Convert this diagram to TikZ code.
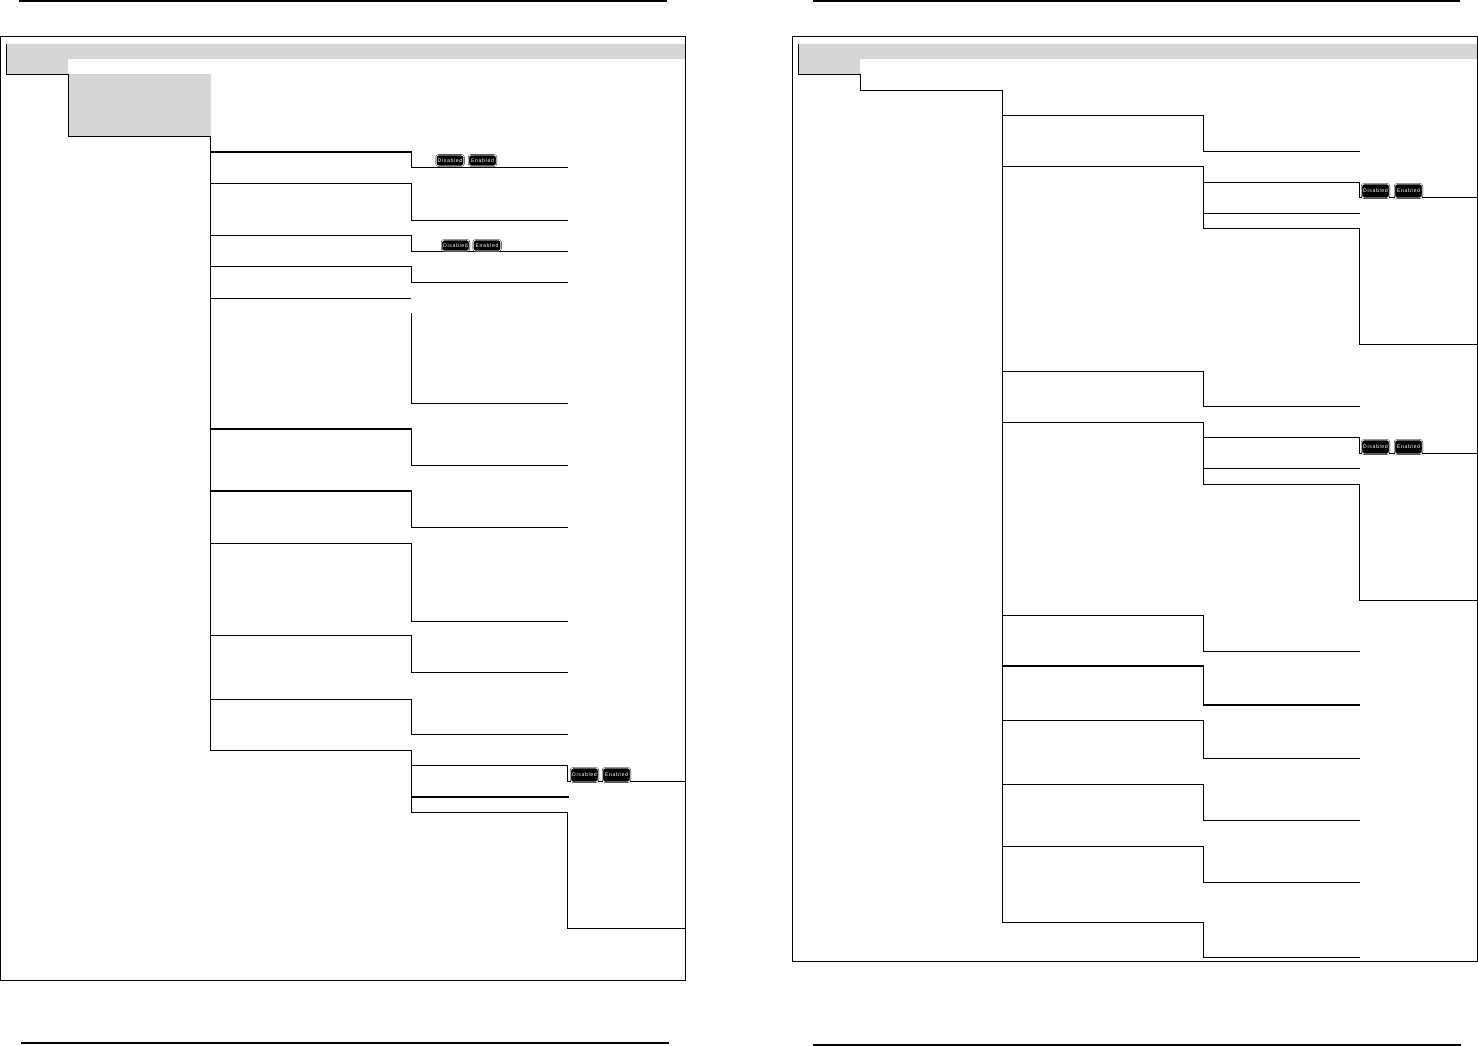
\documentclass[tikz,border=0pt]{standalone}
\usepackage{fontspec}
\newfontfamily\btnfont[LetterSpace=12]{Liberation Sans}
\definecolor{band}{gray}{0.84}
\tikzset{
  wire/.style={draw=black,line width=1pt,line cap=rect},
  heavy/.style={draw=black,line width=2pt,line cap=butt,transform canvas={yshift=.5pt}},
  rulebar/.style={draw=black,line width=2pt},
  btn/.style={fill=black,draw=black,line width=.4pt,double=white,double distance=.7pt,
    rounded corners=2.5pt,text=white,font=\btnfont\fontsize{5.2}{5.2}\selectfont,
    inner sep=0pt,minimum width=27.5pt,minimum height=#1},
  btn/.default=14pt
}
\begin{document}
\begin{tikzpicture}[x=1pt,y=-1pt]
  \useasboundingbox (0,0) rectangle (1478,1046);
  \fill[band] (6,44) -- (685,44) -- (685,59) -- (68,59) -- (68,74) -- (6,74) -- cycle;
  \fill[band] (68,74) rectangle (211,136);
  \fill[band] (798,44) -- (1477,44) -- (1477,59) -- (860,59) -- (860,74) -- (798,74) -- cycle;

  \draw[rulebar] (19,0.7) -- (667,0.7);
  \draw[rulebar] (813,0.7) -- (1460,0.7);
  \draw[rulebar] (21,1042.7) -- (669,1042.7);
  \draw[rulebar] (813,1044.7) -- (1461,1044.7);

  \begin{scope}[shift={(0.5,0.5)}]
  \draw[wire] (0,36) rectangle (685,980);
  \draw[wire] (792,36) rectangle (1477,961);

  \coordinate (lstart) at (6,44);
  \coordinate (lstep) at (6,74);
  \coordinate (lhead) at (68,74);
  \coordinate (lhook) at (68,136);
  \coordinate (ltop) at (210,136);
  \coordinate (lend) at (210,750);
  \draw[wire] (lstart) -- (lstep) -- (lhead) -- (lhook) -- (ltop) -- (lend);

  \coordinate (rstart) at (798,44);
  \coordinate (rstep) at (798,74);
  \coordinate (rhead) at (860,74);
  \coordinate (rhook) at (860,90);
  \coordinate (rtop) at (1002,90);
  \coordinate (rend) at (1002,922);
  \draw[wire] (rstart) -- (rstep) -- (rhead) -- (rhook) -- (rtop) -- (rend);

  \foreach \ya/\yb in {152/167,183/220,235/251,266/282,429/465,491/527,543/621,635/672,699/734} {
    \coordinate (la\ya) at (210,\ya);
    \coordinate (lb\ya) at (411,\ya);
    \coordinate (lc\ya) at (411,\yb);
    \coordinate (ld\ya) at (567,\yb);
    \draw[wire] (la\ya) -- (lb\ya) -- (lc\ya) -- (ld\ya);
  }
  \foreach \ya in {152,429,491}
    \draw[heavy] (la\ya) -- (lb\ya);

  \coordinate (lopen) at (210,298);
  \coordinate (lopenend) at (410,298);
  \draw[wire] (lopen) -- (lopenend);
  \coordinate (lgap) at (411,313);
  \coordinate (lgapend) at (411,403);
  \coordinate (lgapout) at (567,403);
  \draw[wire] (lgap) -- (lgapend) -- (lgapout);

  \coordinate (lsub) at (210,750);
  \coordinate (lsubx) at (411,750);
  \coordinate (lsubend) at (411,812);
  \coordinate (lsubout) at (567,812);
  \coordinate (lsubdown) at (567,928);
  \coordinate (lsubedge) at (685,928);
  \draw[wire] (lsub) -- (lsubx) -- (lsubend) -- (lsubout) -- (lsubdown) -- (lsubedge);
  \coordinate (lsuba) at (411,765);
  \coordinate (lsubb) at (567,765);
  \coordinate (lsubc) at (567,781);
  \draw[wire] (lsuba) -- (lsubb) -- (lsubc);
  \coordinate (lsubm) at (411,797);
  \coordinate (lsubn) at (568,797);
  \draw[heavy] (lsubm) -- (lsubn);
  \coordinate (lbtnedge) at (685,781);
  \draw[wire] (lsubc) -- (lbtnedge);

  \foreach \ya/\yb in {115/151,371/406,615/651,666/705,720/758,784/820,846/882,922/957} {
    \coordinate (ra\ya) at (1002,\ya);
    \coordinate (rb\ya) at (1203,\ya);
    \coordinate (rc\ya) at (1203,\yb);
    \coordinate (rd\ya) at (1359,\yb);
    \draw[wire] (ra\ya) -- (rb\ya) -- (rc\ya) -- (rd\ya);
  }
  \draw[heavy] (ra666) -- (rb666);
  \draw[heavy] (rc666) -- (rd666);

  \foreach \ya/\yb/\yc/\yd/\ye/\yf in {166/182/197/213/228/344,422/437/453/468/484/600} {
    \coordinate (ra\ya) at (1002,\ya);
    \coordinate (rb\ya) at (1203,\ya);
    \coordinate (rc\ya) at (1203,\ye);
    \coordinate (rd\ya) at (1359,\ye);
    \coordinate (re\ya) at (1359,\yf);
    \coordinate (rf\ya) at (1477,\yf);
    \draw[wire] (ra\ya) -- (rb\ya) -- (rc\ya) -- (rd\ya) -- (re\ya) -- (rf\ya);
    \coordinate (rg\ya) at (1203,\yb);
    \coordinate (rh\ya) at (1359,\yb);
    \coordinate (ri\ya) at (1359,\yc);
    \draw[wire] (rg\ya) -- (rh\ya) -- (ri\ya);
    \coordinate (rj\ya) at (1203,\yd);
    \coordinate (rk\ya) at (1359,\yd);
    \draw[wire] (rj\ya) -- (rk\ya);
    \coordinate (rl\ya) at (1477,\yc);
    \draw[wire] (ri\ya) -- (rl\ya);
  }
  \end{scope}

  \node[btn=11pt] (offa) at (450,160.5) {Disabled};
  \node[btn=11pt] (ona) at (482.5,160.5) {Enabled};
  \node[btn=11pt] (offb) at (455.5,245.5) {Disabled};
  \node[btn=11pt] (onb) at (487,245.5) {Enabled};
  \node[btn] (offc) at (584.5,775) {Disabled};
  \node[btn] (onc) at (616.5,775) {Enabled};
  \node[btn] (offd) at (1375.5,191) {Disabled};
  \node[btn] (ond) at (1408.5,191) {Enabled};
  \node[btn] (offe) at (1375.5,447) {Disabled};
  \node[btn] (one) at (1408.5,447) {Enabled};
\end{tikzpicture}
\end{document}
